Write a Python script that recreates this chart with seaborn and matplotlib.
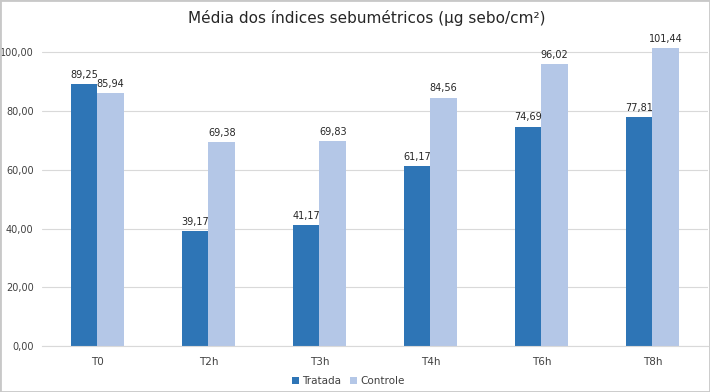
import numpy as np
import pandas as pd
import matplotlib.pyplot as plt
import seaborn as sns
from matplotlib.patches import Rectangle

categories = ["T0", "T2h", "T3h", "T4h", "T6h", "T8h"]
tratada = [89.25, 39.17, 41.17, 61.17, 74.69, 77.81]
controle = [85.94, 69.38, 69.83, 84.56, 96.02, 101.44]
series = ["Tratada", "Controle"]
colors = ["#2E75B6", "#B4C7E7"]

sns.set_style("white")
plt.rcParams['font.family'] = ['DejaVu Sans']

df = pd.DataFrame({
    "tempo": categories * 2,
    "grupo": [series[0]] * len(categories) + [series[1]] * len(categories),
    "valor": tratada + controle,
})

fig = plt.figure(figsize=(7.1, 3.92), dpi=100)
ax = fig.add_axes([0.059, 0.117, 0.938, 0.81])

sns.barplot(data=df, x="tempo", y="valor", hue="grupo", palette=colors,
            width=0.48, saturation=1, ax=ax, errorbar=None, linewidth=0)

fmt = lambda v: f"{v:.2f}".replace(".", ",")
for cont in ax.containers:
    ax.bar_label(cont, labels=[fmt(v) for v in cont.datavalues], padding=3,
                 fontsize=7, color="#262626")

ax.set_ylim(0, 108)
ax.set_xlim(-0.5, len(categories) - 0.5)
ax.set_yticks(np.arange(0, 101, 20))
ax.set_yticklabels([fmt(v) for v in np.arange(0, 101, 20)], fontsize=7, color="#404040")
ax.tick_params(axis="x", labelsize=7.5, colors="#404040", length=0, pad=8)
ax.tick_params(axis="y", length=0, pad=6)
ax.yaxis.grid(True, color="#d9d9d9", linewidth=0.8)
ax.set_axisbelow(True)
for s in ["top", "right", "left"]:
    ax.spines[s].set_visible(False)
ax.spines["bottom"].set_color("#d9d9d9")
ax.set_xlabel("")
ax.set_ylabel("")

ax.legend(loc="center", bbox_to_anchor=(0.46, -0.11), ncol=2, frameon=False,
          fontsize=7.5, handlelength=0.7, handleheight=0.7, handletextpad=0.3,
          columnspacing=0.8, labelcolor="#404040", borderpad=0)

fig.text(0.517, 0.955, "Média dos índices sebumétricos (µg sebo/cm²)",
         ha="center", va="center", fontsize=11, color="#262626")

fig.patches.append(Rectangle((0, 0), 1, 1, transform=fig.transFigure, fill=False,
                             edgecolor="#c8c8c8", linewidth=2))

fig.savefig("out.png", dpi=100)
